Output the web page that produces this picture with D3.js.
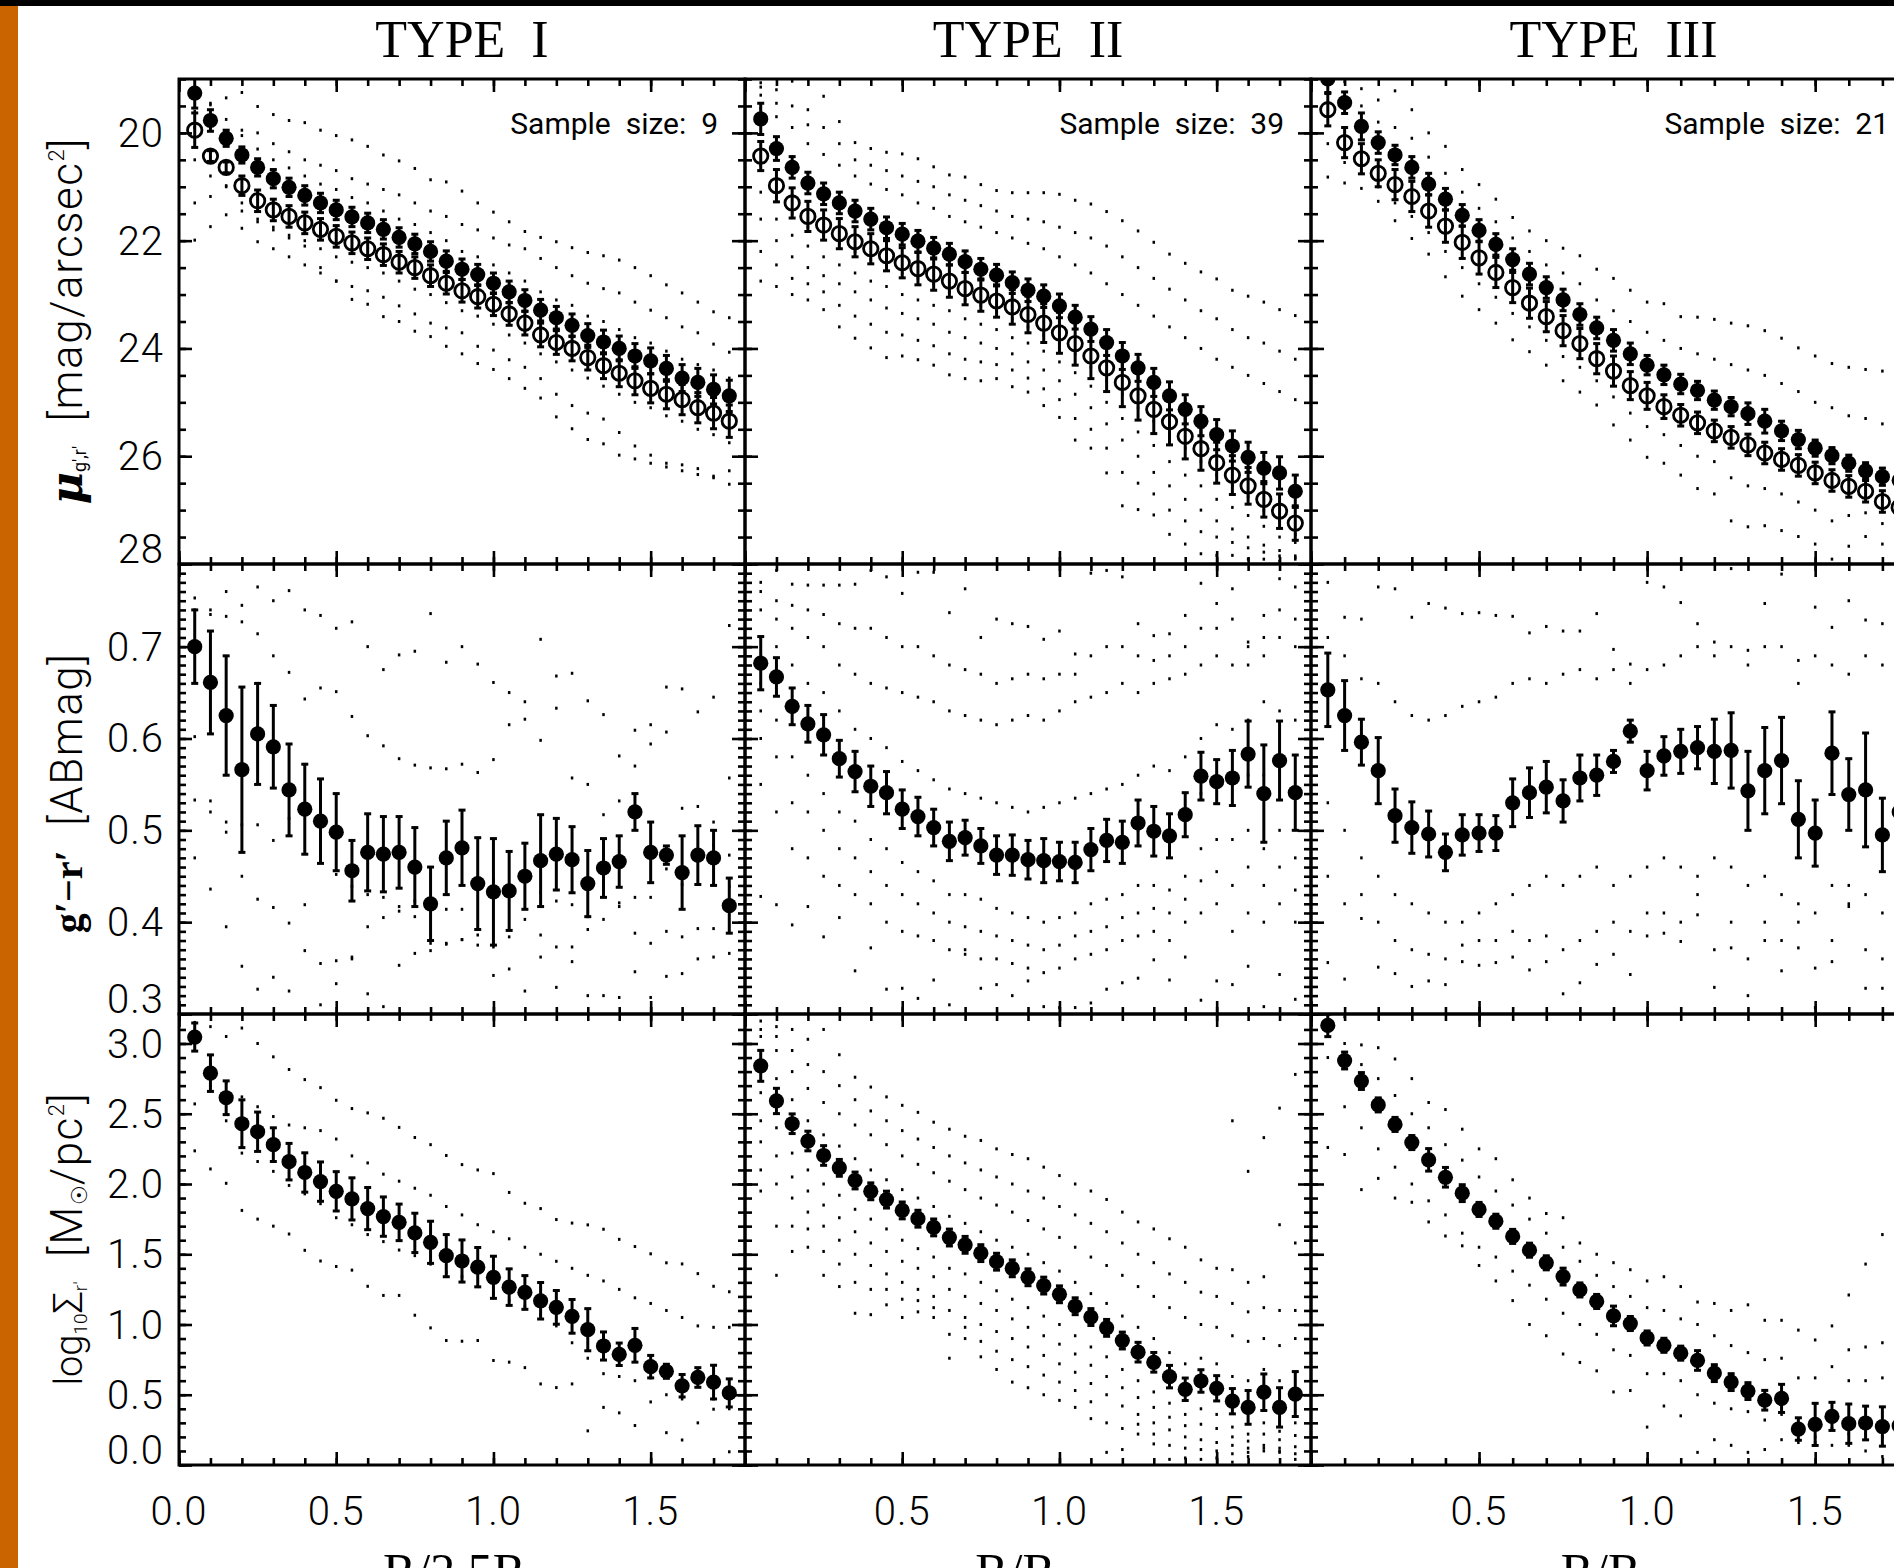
<!DOCTYPE html>
<html>
<head>
<meta charset="utf-8">
<script src="https://cdn.jsdelivr.net/npm/d3@7"></script>
<style>
  body { margin: 0; background: #fff; }
  svg { display: block; }
</style>
</head>
<body>
<script>
const radio = [0.05, 0.10, 0.15, 0.20, 0.25, 0.30, 0.35, 0.40, 0.45, 0.50, 0.55, 0.60, 0.65, 0.70, 0.75, 0.80, 0.85, 0.90, 0.95, 1.00, 1.05, 1.10, 1.15, 1.20, 1.25, 1.30, 1.35, 1.40, 1.45, 1.50, 1.55, 1.60, 1.65, 1.70, 1.75];

const tipos = ['TYPE  I', 'TYPE  II', 'TYPE  III'];
const muestras = [9, 39, 21];
const titulosX = [['R/2.5R', 'h'], ['R/R', 'br'], ['R/R', 'br']];

const ticksX = [0.0, 0.5, 1.0, 1.5];
const ticksMu = [20, 22, 24, 26, 28];
const ticksColor = [0.3, 0.4, 0.5, 0.6, 0.7];
const ticksMasa = [0.0, 0.5, 1.0, 1.5, 2.0, 2.5, 3.0];

// TYPE I
const muR1 = [19.26, 19.77, 20.10, 20.41, 20.64, 20.85, 21.01, 21.16, 21.30, 21.43, 21.56, 21.67, 21.79, 21.94, 22.06, 22.20, 22.38, 22.53, 22.63, 22.79, 22.95, 23.11, 23.29, 23.43, 23.57, 23.76, 23.88, 24.00, 24.14, 24.23, 24.37, 24.55, 24.63, 24.76, 24.88];
const muR1Err = [0.28, 0.2, 0.15, 0.15, 0.16, 0.17, 0.17, 0.18, 0.18, 0.18, 0.18, 0.18, 0.18, 0.18, 0.18, 0.18, 0.19, 0.19, 0.19, 0.19, 0.2, 0.2, 0.2, 0.21, 0.21, 0.22, 0.22, 0.23, 0.23, 0.24, 0.24, 0.25, 0.26, 0.27, 0.29];
const muG1 = [19.95, 20.43, 20.64, 20.98, 21.26, 21.43, 21.55, 21.67, 21.79, 21.92, 22.04, 22.15, 22.26, 22.40, 22.50, 22.65, 22.79, 22.93, 23.04, 23.18, 23.36, 23.53, 23.75, 23.89, 24.00, 24.17, 24.32, 24.46, 24.60, 24.74, 24.85, 24.95, 25.10, 25.20, 25.35];
const muG1Err = [0.32, 0.1, 0.1, 0.18, 0.2, 0.2, 0.2, 0.2, 0.2, 0.2, 0.2, 0.2, 0.2, 0.2, 0.2, 0.2, 0.2, 0.21, 0.21, 0.21, 0.21, 0.22, 0.22, 0.22, 0.23, 0.23, 0.24, 0.25, 0.26, 0.27, 0.27, 0.28, 0.28, 0.29, 0.3];
const color1 = [0.700, 0.661, 0.625, 0.566, 0.605, 0.591, 0.544, 0.523, 0.510, 0.498, 0.456, 0.476, 0.474, 0.476, 0.460, 0.420, 0.470, 0.481, 0.442, 0.433, 0.434, 0.450, 0.467, 0.474, 0.468, 0.442, 0.459, 0.466, 0.520, 0.476, 0.473, 0.454, 0.473, 0.470, 0.418];
const color1Err = [0.040, 0.056, 0.065, 0.090, 0.055, 0.045, 0.050, 0.049, 0.046, 0.042, 0.033, 0.042, 0.041, 0.039, 0.043, 0.040, 0.040, 0.041, 0.050, 0.058, 0.043, 0.036, 0.050, 0.039, 0.036, 0.036, 0.032, 0.028, 0.020, 0.033, 0.010, 0.040, 0.032, 0.030, 0.030];
const masa1 = [3.046, 2.789, 2.614, 2.429, 2.372, 2.280, 2.159, 2.082, 2.017, 1.948, 1.894, 1.825, 1.768, 1.727, 1.652, 1.585, 1.490, 1.452, 1.408, 1.336, 1.266, 1.228, 1.169, 1.122, 1.058, 0.963, 0.847, 0.788, 0.852, 0.700, 0.667, 0.564, 0.623, 0.590, 0.513];
const masa1Err = [0.10, 0.13, 0.12, 0.17, 0.14, 0.12, 0.13, 0.14, 0.14, 0.14, 0.15, 0.15, 0.14, 0.13, 0.14, 0.15, 0.15, 0.15, 0.14, 0.15, 0.13, 0.12, 0.13, 0.12, 0.12, 0.15, 0.10, 0.08, 0.12, 0.08, 0.05, 0.08, 0.07, 0.12, 0.10];
const perfilesMu1 = [
  [19.6, 19.48, 19.35, 19.25, 19.51, 19.66, 19.77, 19.81, 19.95, 20.05, 20.13, 20.25, 20.41, 20.52, 20.66, 20.87, 20.91, 21.08, 21.30, 21.47, 21.65, 21.83, 21.94, 22.02, 22.13, 22.22, 22.28, 22.36, 22.50, 22.65, 22.82, 22.97, 23.14, 23.32, 23.43],
  [19.9, 19.95, 20.0, 19.95, 20.0, 20.2, 20.35, 20.5, 20.6, 20.7, 20.85, 20.95, 21.05, 21.15, 21.3, 21.45, 21.55, 21.7, 21.8, 21.95, 22.08, 22.15, 22.33, 22.50, 22.65, 22.79, 22.89, 22.97, 23.14, 23.29, 23.43, 23.60, 23.71, 23.92, 24.07],
  [21.3, 21.18, 20.98, 21.45, 21.65, 21.8, 21.95, 22.1, 22.5, 22.75, 22.85, 22.93, 23.05, 23.21, 23.36, 23.53, 23.62, 23.71, 23.96, 24.03, 24.21, 24.35, 24.56, 24.85, 25.06, 25.2, 25.31, 25.56, 25.81, 25.98, 26.13, 26.16, 26.23, 26.37, 26.27],
  [21.99, 21.74, 21.52, 21.77, 22.02, 22.15, 22.3, 22.45, 22.6, 22.75, 23.09, 23.18, 23.41, 23.5, 23.68, 23.78, 23.96, 24.1, 24.28, 24.39, 24.56, 24.74, 24.92, 25.27, 25.49, 25.69, 25.77, 25.98, 26.05, 26.13, 26.2, 26.27, 26.34, 26.4, 26.52],
  [19.0, 19.45, 19.75, 20.05, 20.3, 20.5, 20.65, 20.8, 20.95, 21.05, 21.2, 21.3, 21.45, 21.6, 21.7, 21.85, 22.0, 22.2, 22.3, 22.45, 22.6, 22.75, 22.95, 23.1, 23.2, 23.4, 23.5, 23.65, 23.8, 23.9, 24.05, 24.2, 24.3, 24.4, 24.55],
  [20.5, 20.8, 21.0, 21.3, 21.6, 21.75, 21.9, 22.0, 22.15, 22.3, 22.4, 22.5, 22.6, 22.75, 22.9, 23.0, 23.15, 23.3, 23.4, 23.55, 23.75, 23.9, 24.1, 24.25, 24.4, 24.55, 24.7, 24.85, 25.0, 25.1, 25.25, 25.35, 25.5, 25.6, 25.75]
];
const perfilesColor1 = [
  [0.753, 0.740, 0.760, 0.745, 0.765, 0.750, 0.761, 0.740, 0.734, 0.720, 0.727, 0.700, 0.675, 0.691, 0.695, 0.736, 0.683, 0.700, 0.681, 0.661, 0.650, 0.640, 0.708, 0.668, 0.671, 0.641, 0.626, 0.581, 0.609, 0.615, 0.656, 0.654, 0.629, 0.645, 0.723],
  [0.740, 0.735, 0.733, 0.727, 0.714, 0.690, 0.672, 0.643, 0.655, 0.651, 0.624, 0.603, 0.592, 0.578, 0.571, 0.568, 0.567, 0.572, 0.563, 0.577, 0.615, 0.621, 0.598, 0.633, 0.557, 0.550, 0.517, 0.532, 0.570, 0.594, 0.607, 0.524, 0.526, 0.509, 0.557],
  [0.602, 0.532, 0.509, 0.506, 0.506, 0.489, 0.513, 0.528, 0.465, 0.452, 0.439, 0.430, 0.427, 0.417, 0.423, 0.419, 0.414, 0.414, 0.447, 0.446, 0.441, 0.447, 0.432, 0.423, 0.419, 0.406, 0.429, 0.417, 0.427, 0.427, 0.458, 0.441, 0.476, 0.484, 0.473],
  [0.533, 0.520, 0.498, 0.450, 0.425, 0.416, 0.399, 0.419, 0.355, 0.358, 0.362, 0.395, 0.405, 0.412, 0.406, 0.377, 0.377, 0.381, 0.386, 0.373, 0.384, 0.403, 0.386, 0.373, 0.373, 0.392, 0.403, 0.421, 0.388, 0.377, 0.390, 0.384, 0.393, 0.393, 0.439],
  [0.470, 0.436, 0.395, 0.352, 0.327, 0.340, 0.325, 0.369, 0.310, 0.333, 0.360, 0.322, 0.308, 0.353, 0.366, 0.369, 0.376, 0.381, 0.375, 0.342, 0.349, 0.325, 0.362, 0.329, 0.357, 0.320, 0.320, 0.318, 0.346, 0.318, 0.341, 0.344, 0.360, 0.362, 0.366]
];
const perfilesMasa1 = [
  [3.15, 3.12, 3.05, 3.11, 3.00, 2.905, 2.815, 2.743, 2.686, 2.596, 2.537, 2.506, 2.468, 2.403, 2.331, 2.280, 2.203, 2.138, 2.100, 2.074, 1.940, 1.863, 1.825, 1.747, 1.722, 1.709, 1.678, 1.606, 1.555, 1.503, 1.439, 1.431, 1.362, 1.272, 1.233],
  [2.95, 2.85, 2.72, 2.62, 2.55, 2.48, 2.42, 2.40, 2.38, 2.32, 2.20, 2.15, 2.07, 2.02, 1.97, 1.92, 1.84, 1.78, 1.71, 1.66, 1.61, 1.55, 1.50, 1.45, 1.40, 1.35, 1.31, 1.25, 1.19, 1.15, 1.10, 1.05, 0.99, 0.98, 0.98],
  [2.57, 2.70, 2.45, 2.22, 2.16, 2.09, 1.99, 1.93, 1.86, 1.76, 1.71, 1.64, 1.59, 1.53, 1.49, 1.43, 1.37, 1.34, 1.27, 1.22, 1.17, 1.13, 1.07, 0.99, 0.87, 0.76, 0.65, 0.63, 0.60, 0.62, 0.50, 0.47, 0.60, 0.47, 0.40],
  [2.236, 2.107, 2.005, 1.812, 1.75, 1.70, 1.644, 1.528, 1.452, 1.413, 1.387, 1.272, 1.207, 1.207, 1.066, 0.976, 0.886, 0.881, 0.886, 0.744, 0.732, 0.693, 0.577, 0.551, 0.577, 0.243, 0.410, 0.371, 0.281, 0.449, 0.230, 0.178, 0.30, 0.397, 0.094]
];

// TYPE II
const muR2 = [19.74, 20.29, 20.64, 20.93, 21.13, 21.30, 21.45, 21.60, 21.76, 21.88, 22.01, 22.14, 22.25, 22.39, 22.53, 22.64, 22.78, 22.92, 23.03, 23.21, 23.42, 23.64, 23.89, 24.14, 24.36, 24.63, 24.88, 25.13, 25.35, 25.60, 25.81, 26.02, 26.22, 26.31, 26.65];
const muR2Err = [0.29, 0.22, 0.2, 0.2, 0.2, 0.2, 0.2, 0.2, 0.2, 0.2, 0.2, 0.2, 0.2, 0.2, 0.2, 0.2, 0.2, 0.21, 0.21, 0.22, 0.22, 0.23, 0.24, 0.25, 0.25, 0.26, 0.26, 0.27, 0.27, 0.28, 0.28, 0.28, 0.29, 0.3, 0.3];
const muG2 = [20.43, 20.98, 21.30, 21.55, 21.71, 21.87, 22.02, 22.15, 22.28, 22.41, 22.52, 22.62, 22.75, 22.89, 23.01, 23.12, 23.23, 23.37, 23.53, 23.71, 23.91, 24.14, 24.36, 24.63, 24.88, 25.13, 25.36, 25.63, 25.86, 26.12, 26.35, 26.55, 26.80, 27.02, 27.24];
const muG2Err = [0.27, 0.3, 0.28, 0.28, 0.28, 0.28, 0.28, 0.28, 0.28, 0.28, 0.3, 0.3, 0.3, 0.3, 0.3, 0.3, 0.32, 0.34, 0.36, 0.38, 0.4, 0.42, 0.44, 0.45, 0.45, 0.45, 0.43, 0.42, 0.4, 0.38, 0.36, 0.34, 0.33, 0.32, 0.32];
const color2 = [0.682, 0.667, 0.635, 0.616, 0.604, 0.578, 0.564, 0.548, 0.541, 0.523, 0.515, 0.503, 0.488, 0.492, 0.483, 0.473, 0.473, 0.468, 0.467, 0.466, 0.465, 0.479, 0.489, 0.487, 0.508, 0.499, 0.494, 0.517, 0.559, 0.553, 0.557, 0.583, 0.540, 0.576, 0.541];
const color2Err = [0.029, 0.021, 0.020, 0.020, 0.022, 0.020, 0.022, 0.022, 0.023, 0.021, 0.021, 0.020, 0.021, 0.019, 0.019, 0.021, 0.022, 0.021, 0.024, 0.021, 0.022, 0.023, 0.023, 0.023, 0.025, 0.027, 0.024, 0.024, 0.026, 0.024, 0.030, 0.036, 0.053, 0.043, 0.041];
const masa2 = [2.841, 2.591, 2.429, 2.306, 2.203, 2.115, 2.025, 1.948, 1.889, 1.812, 1.753, 1.691, 1.619, 1.567, 1.508, 1.447, 1.400, 1.336, 1.277, 1.215, 1.130, 1.053, 0.976, 0.886, 0.803, 0.731, 0.629, 0.539, 0.598, 0.546, 0.454, 0.410, 0.518, 0.410, 0.505];
const masa2Err = [0.11, 0.09, 0.07, 0.07, 0.07, 0.06, 0.06, 0.06, 0.06, 0.06, 0.06, 0.06, 0.06, 0.06, 0.06, 0.06, 0.06, 0.06, 0.06, 0.06, 0.06, 0.06, 0.06, 0.06, 0.07, 0.07, 0.08, 0.08, 0.08, 0.09, 0.09, 0.12, 0.13, 0.14, 0.16];
const perfilesMu2 = [
  [19.07, 19.2, 19.04, 19.57, 19.32, 19.79, 20.18, 20.29, 20.36, 20.39, 20.48, 20.63, 20.78, 20.82, 20.96, 21.07, 21.11, 21.11, 21.11, 21.14, 21.25, 21.32, 21.46, 21.63, 21.82, 22.03, 22.25, 22.42, 22.58, 22.71, 22.92, 23.03, 23.14, 23.28, 23.39],
  [19.15, 19.45, 19.5, 19.85, 19.9, 20.2, 20.5, 20.6, 20.7, 20.8, 20.9, 21.0, 21.15, 21.25, 21.35, 21.45, 21.55, 21.6, 21.65, 21.75, 21.85, 21.95, 22.1, 22.3, 22.5, 22.7, 22.9, 23.1, 23.3, 23.45, 23.65, 23.8, 23.9, 24.05, 24.2],
  [19.3, 19.7, 19.9, 20.2, 20.4, 20.6, 20.8, 20.95, 21.05, 21.15, 21.3, 21.4, 21.55, 21.65, 21.75, 21.85, 21.95, 22.05, 22.15, 22.3, 22.45, 22.6, 22.8, 23.0, 23.2, 23.4, 23.6, 23.8, 24.0, 24.2, 24.35, 24.5, 24.65, 24.8, 24.95],
  [19.55, 20.1, 20.45, 20.75, 20.95, 21.15, 21.3, 21.45, 21.6, 21.7, 21.85, 21.95, 22.1, 22.2, 22.35, 22.5, 22.6, 22.75, 22.85, 23.05, 23.25, 23.45, 23.7, 23.95, 24.2, 24.45, 24.7, 24.95, 25.15, 25.4, 25.6, 25.8, 26.0, 26.1, 26.4],
  [20.6, 21.2, 21.5, 21.75, 21.9, 22.05, 22.2, 22.35, 22.45, 22.6, 22.7, 22.8, 22.95, 23.1, 23.2, 23.3, 23.45, 23.6, 23.75, 23.9, 24.1, 24.35, 24.6, 24.85, 25.1, 25.35, 25.6, 25.85, 26.1, 26.35, 26.55, 26.75, 27.0, 27.2, 27.45],
  [21.1, 21.6, 21.9, 22.1, 22.3, 22.45, 22.6, 22.75, 22.85, 23.0, 23.1, 23.2, 23.3, 23.45, 23.55, 23.65, 23.8, 23.9, 24.05, 24.25, 24.45, 24.7, 25.0, 25.3, 25.55, 25.8, 26.1, 26.35, 26.55, 26.8, 26.95, 27.1, 27.3, 27.5, 27.6],
  [21.6, 22.0, 22.3, 22.5, 22.65, 22.8, 22.95, 23.1, 23.25, 23.35, 23.45, 23.55, 23.7, 23.8, 23.9, 24.0, 24.1, 24.25, 24.4, 24.6, 24.85, 25.1, 25.4, 25.7, 26.0, 26.3, 26.55, 26.8, 27.0, 27.2, 27.35, 27.5, 27.65, 27.75, 27.85],
  [22.2, 22.45, 22.7, 22.8, 22.95, 23.2, 23.4, 23.55, 23.7, 23.75, 23.85, 23.95, 24.1, 24.2, 24.25, 24.3, 24.4, 24.55, 24.75, 24.95, 25.3, 25.5, 25.85, 26.3, 26.5, 26.7, 27.0, 27.2, 27.4, 27.5, 27.6, 27.7, 27.78, 27.85, 27.88],
  [22.75, 22.85, 23.0, 23.1, 23.28, 23.60, 23.81, 23.99, 24.17, 24.14, 24.21, 24.31, 24.49, 24.56, 24.60, 24.56, 24.71, 24.81, 25.06, 25.28, 25.70, 25.85, 26.31, 26.92, 26.99, 27.09, 27.45, 27.63, 27.81, 27.84, 27.84, 27.91, 27.91, 27.95, 27.91]
];
const perfilesColor2 = [
  [0.770, 0.783, 0.768, 0.767, 0.767, 0.767, 0.768, 0.783, 0.776, 0.758, 0.781, 0.781, 0.737, 0.763, 0.710, 0.730, 0.725, 0.722, 0.708, 0.717, 0.692, 0.780, 0.783, 0.776, 0.725, 0.712, 0.714, 0.734, 0.769, 0.747, 0.763, 0.705, 0.734, 0.774, 0.765],
  [0.76, 0.75, 0.745, 0.74, 0.735, 0.725, 0.72, 0.72, 0.71, 0.70, 0.70, 0.69, 0.68, 0.675, 0.67, 0.66, 0.665, 0.67, 0.665, 0.67, 0.67, 0.69, 0.70, 0.70, 0.69, 0.685, 0.69, 0.70, 0.72, 0.72, 0.73, 0.68, 0.71, 0.74, 0.73],
  [0.74, 0.73, 0.72, 0.71, 0.70, 0.68, 0.67, 0.66, 0.655, 0.65, 0.645, 0.64, 0.63, 0.625, 0.62, 0.615, 0.62, 0.625, 0.62, 0.63, 0.64, 0.645, 0.65, 0.66, 0.65, 0.66, 0.665, 0.67, 0.68, 0.69, 0.68, 0.70, 0.69, 0.71, 0.70],
  [0.71, 0.70, 0.68, 0.66, 0.65, 0.63, 0.61, 0.60, 0.59, 0.575, 0.565, 0.555, 0.545, 0.54, 0.535, 0.53, 0.525, 0.52, 0.525, 0.53, 0.535, 0.54, 0.545, 0.55, 0.56, 0.57, 0.565, 0.58, 0.60, 0.615, 0.61, 0.62, 0.64, 0.63, 0.62],
  [0.66, 0.65, 0.63, 0.61, 0.60, 0.575, 0.56, 0.545, 0.535, 0.52, 0.51, 0.50, 0.485, 0.485, 0.48, 0.47, 0.465, 0.46, 0.46, 0.465, 0.47, 0.48, 0.485, 0.49, 0.50, 0.505, 0.50, 0.515, 0.54, 0.55, 0.55, 0.56, 0.56, 0.565, 0.545],
  [0.63, 0.62, 0.58, 0.56, 0.54, 0.52, 0.51, 0.49, 0.48, 0.465, 0.455, 0.445, 0.43, 0.43, 0.425, 0.415, 0.41, 0.405, 0.40, 0.405, 0.41, 0.42, 0.425, 0.43, 0.44, 0.44, 0.435, 0.45, 0.48, 0.49, 0.49, 0.50, 0.48, 0.50, 0.47],
  [0.60, 0.58, 0.53, 0.52, 0.50, 0.48, 0.47, 0.455, 0.44, 0.43, 0.42, 0.41, 0.40, 0.395, 0.39, 0.385, 0.38, 0.375, 0.37, 0.375, 0.385, 0.39, 0.395, 0.405, 0.41, 0.415, 0.41, 0.425, 0.445, 0.455, 0.44, 0.46, 0.44, 0.46, 0.435],
  [0.55, 0.52, 0.48, 0.47, 0.45, 0.44, 0.43, 0.42, 0.40, 0.39, 0.385, 0.38, 0.37, 0.365, 0.36, 0.36, 0.355, 0.35, 0.345, 0.35, 0.36, 0.365, 0.37, 0.38, 0.385, 0.39, 0.38, 0.40, 0.41, 0.42, 0.39, 0.41, 0.40, 0.42, 0.40],
  [0.428, 0.419, 0.397, 0.417, 0.384, 0.405, 0.347, 0.372, 0.327, 0.328, 0.317, 0.337, 0.310, 0.370, 0.328, 0.332, 0.320, 0.336, 0.308, 0.307, 0.307, 0.312, 0.327, 0.334, 0.339, 0.359, 0.337, 0.362, 0.315, 0.336, 0.332, 0.352, 0.308, 0.343, 0.316]
];
const perfilesMasa2 = [
  [3.16, 3.12, 3.10, 3.03, 3.10, 2.92, 2.76, 2.69, 2.62, 2.56, 2.51, 2.44, 2.39, 2.34, 2.31, 2.25, 2.21, 2.18, 2.12, 2.06, 2.00, 1.95, 1.89, 1.80, 1.73, 1.68, 1.61, 1.55, 1.46, 1.40, 1.39, 1.30, 1.34, 1.71, 1.58],
  [3.1, 3.05, 2.95, 2.85, 2.8, 2.7, 2.6, 2.52, 2.45, 2.38, 2.32, 2.26, 2.2, 2.15, 2.1, 2.05, 2.0, 1.95, 1.9, 1.84, 1.78, 1.72, 1.66, 1.58, 1.5, 1.44, 1.36, 1.3, 1.23, 1.2, 1.15, 1.09, 1.12, 1.1, 1.1],
  [3.05, 2.95, 2.8, 2.68, 2.58, 2.5, 2.42, 2.35, 2.28, 2.2, 2.14, 2.08, 2.02, 1.96, 1.9, 1.85, 1.8, 1.74, 1.68, 1.62, 1.55, 1.48, 1.42, 1.35, 1.27, 1.2, 1.12, 1.05, 1.0, 0.98, 0.92, 0.88, 0.9, 0.85, 0.9],
  [2.95, 2.75, 2.6, 2.45, 2.35, 2.27, 2.18, 2.1, 2.03, 1.96, 1.9, 1.84, 1.77, 1.72, 1.66, 1.6, 1.55, 1.5, 1.44, 1.38, 1.3, 1.22, 1.15, 1.06, 0.98, 0.9, 0.8, 0.72, 0.76, 0.72, 0.63, 0.6, 0.68, 0.6, 0.66],
  [2.65, 2.4, 2.22, 2.1, 2.0, 1.92, 1.82, 1.75, 1.68, 1.6, 1.54, 1.48, 1.4, 1.36, 1.3, 1.24, 1.18, 1.12, 1.06, 1.0, 0.92, 0.84, 0.77, 0.68, 0.6, 0.52, 0.44, 0.36, 0.4, 0.36, 0.27, 0.22, 0.3, 0.24, 0.3],
  [2.45, 2.2, 2.05, 1.95, 1.85, 1.76, 1.66, 1.58, 1.52, 1.45, 1.4, 1.34, 1.25, 1.2, 1.15, 1.1, 1.04, 0.98, 0.92, 0.86, 0.79, 0.71, 0.63, 0.55, 0.48, 0.41, 0.34, 0.28, 0.29, 0.26, 0.2, 0.17, 0.22, 0.18, 0.21],
  [2.3, 2.0, 1.9, 1.8, 1.7, 1.6, 1.5, 1.42, 1.36, 1.3, 1.25, 1.2, 1.1, 1.05, 1.0, 0.95, 0.9, 0.84, 0.78, 0.72, 0.66, 0.58, 0.5, 0.42, 0.36, 0.3, 0.25, 0.2, 0.18, 0.16, 0.14, 0.12, 0.14, 0.12, 0.13],
  [2.1, 1.7, 1.7, 1.68, 1.52, 1.43, 1.3, 1.25, 1.25, 1.18, 1.17, 1.12, 0.93, 0.98, 0.88, 0.81, 0.75, 0.7, 0.64, 0.59, 0.53, 0.45, 0.3, 0.26, 0.29, 0.22, 0.14, 0.12, 0.11, 0.1, 0.08, 0.09, 0.12, 0.1, 0.08],
  [1.95, 1.35, 1.52, 1.55, 1.35, 1.27, 1.08, 1.07, 1.14, 1.05, 1.09, 1.05, 0.76, 0.90, 0.77, 0.68, 0.59, 0.55, 0.50, 0.46, 0.41, 0.33, 0.09, 0.11, 0.22, 0.15, 0.04, 0.05, 0.04, 0.05, 0.02, 0.06, 0.10, 0.09, 0.04],
  [null, null, null, null, null, null, null, null, null, null, null, null, null, null, null, null, null, null, null, null, null, null, null, null, null, null, null, null, null, null, 2.45, 2.09, 2.33, 2.54, 2.78]
];

// TYPE III
const muR3 = [19.0, 19.44, 19.88, 20.18, 20.41, 20.64, 20.95, 21.23, 21.53, 21.81, 22.07, 22.35, 22.62, 22.87, 23.10, 23.37, 23.62, 23.85, 24.10, 24.31, 24.49, 24.66, 24.78, 24.96, 25.08, 25.21, 25.35, 25.53, 25.69, 25.85, 25.99, 26.13, 26.27, 26.38, 26.45];
const muR3Err = [0.25, 0.2, 0.25, 0.2, 0.18, 0.2, 0.2, 0.2, 0.2, 0.2, 0.2, 0.2, 0.2, 0.2, 0.2, 0.2, 0.2, 0.2, 0.2, 0.18, 0.18, 0.18, 0.17, 0.17, 0.17, 0.2, 0.22, 0.18, 0.17, 0.15, 0.15, 0.15, 0.15, 0.16, 0.18];
const muG3 = [19.57, 20.18, 20.48, 20.75, 20.96, 21.18, 21.45, 21.73, 22.03, 22.32, 22.59, 22.87, 23.16, 23.41, 23.67, 23.91, 24.19, 24.42, 24.69, 24.88, 25.08, 25.24, 25.38, 25.53, 25.65, 25.79, 25.94, 26.06, 26.17, 26.31, 26.45, 26.56, 26.65, 26.84, 26.95];
const muG3Err = [0.3, 0.28, 0.28, 0.25, 0.28, 0.28, 0.3, 0.3, 0.3, 0.3, 0.28, 0.28, 0.28, 0.28, 0.28, 0.28, 0.28, 0.28, 0.26, 0.25, 0.22, 0.2, 0.2, 0.2, 0.2, 0.2, 0.2, 0.2, 0.2, 0.2, 0.2, 0.2, 0.2, 0.2, 0.22];
const color3 = [0.653, 0.625, 0.596, 0.565, 0.516, 0.503, 0.496, 0.476, 0.495, 0.497, 0.497, 0.530, 0.541, 0.547, 0.532, 0.557, 0.560, 0.575, 0.608, 0.565, 0.581, 0.586, 0.590, 0.586, 0.587, 0.543, 0.565, 0.576, 0.512, 0.497, 0.584, 0.539, 0.544, 0.495, 0.520];
const color3Err = [0.040, 0.038, 0.025, 0.036, 0.029, 0.028, 0.025, 0.020, 0.022, 0.020, 0.019, 0.026, 0.027, 0.028, 0.023, 0.025, 0.022, 0.012, 0.012, 0.021, 0.021, 0.024, 0.023, 0.035, 0.041, 0.043, 0.047, 0.047, 0.042, 0.036, 0.045, 0.039, 0.062, 0.040, 0.040];
const masa3 = [3.129, 2.879, 2.733, 2.563, 2.424, 2.295, 2.172, 2.048, 1.935, 1.819, 1.735, 1.627, 1.529, 1.439, 1.341, 1.246, 1.164, 1.061, 1.007, 0.904, 0.852, 0.796, 0.744, 0.654, 0.590, 0.526, 0.461, 0.474, 0.256, 0.289, 0.346, 0.294, 0.299, 0.274, 0.280];
const masa3Err = [0.08, 0.06, 0.06, 0.05, 0.05, 0.05, 0.08, 0.07, 0.06, 0.05, 0.05, 0.05, 0.05, 0.05, 0.06, 0.05, 0.05, 0.07, 0.05, 0.05, 0.05, 0.05, 0.07, 0.06, 0.06, 0.06, 0.07, 0.1, 0.08, 0.15, 0.1, 0.14, 0.12, 0.14, 0.15];
const perfilesMu3 = [
  [18.93, 19.05, 19.18, 19.39, 19.22, 19.57, 20.0, 20.25, 20.68, 20.96, 21.23, 21.57, 21.82, 22.0, 22.14, 22.28, 22.53, 22.70, 22.92, 23.14, 23.17, 23.41, 23.42, 23.46, 23.53, 23.58, 23.67, 23.81, 23.99, 24.14, 24.28, 24.35, 24.39, 24.42, 24.45],
  [19.1, 19.25, 19.5, 19.8, 19.9, 20.1, 20.45, 20.75, 21.1, 21.4, 21.65, 21.95, 22.2, 22.45, 22.6, 22.8, 23.1, 23.3, 23.5, 23.7, 23.85, 24.0, 24.1, 24.2, 24.3, 24.4, 24.5, 24.65, 24.8, 25.0, 25.1, 25.25, 25.3, 25.4, 25.45],
  [20.2, 20.55, 20.75, 21.0, 21.3, 21.55, 21.85, 22.2, 22.5, 22.8, 23.05, 23.35, 23.6, 23.85, 24.15, 24.35, 24.6, 24.9, 25.2, 25.45, 25.6, 25.8, 26.0, 26.1, 26.4, 26.55, 26.6, 26.7, 26.85, 27.0, 27.2, 27.1, 27.05, 27.25, 27.3],
  [20.82, 20.93, 21.03, 21.27, 21.63, 21.96, 22.25, 22.67, 23.03, 23.28, 23.53, 23.84, 24.06, 24.31, 24.60, 24.81, 25.05, 25.42, 25.70, 26.02, 26.13, 26.35, 26.60, 26.70, 27.20, 27.31, 27.29, 27.38, 27.49, 27.63, 27.91, 27.67, 27.49, 27.63, 27.6]
];
const perfilesColor3 = [
  [0.770, 0.732, 0.730, 0.765, 0.763, 0.732, 0.747, 0.742, 0.736, 0.737, 0.734, 0.733, 0.715, 0.722, 0.717, 0.717, 0.736, 0.697, 0.681, 0.770, 0.765, 0.748, 0.725, 0.705, 0.785, 0.696, 0.747, 0.779, 0.685, 0.743, 0.721, 0.750, 0.729, 0.725, 0.73],
  [0.71, 0.69, 0.665, 0.66, 0.64, 0.625, 0.62, 0.625, 0.635, 0.64, 0.645, 0.66, 0.665, 0.66, 0.67, 0.675, 0.665, 0.675, 0.66, 0.675, 0.68, 0.69, 0.70, 0.69, 0.70, 0.68, 0.70, 0.70, 0.66, 0.69, 0.68, 0.67, 0.69, 0.68, 0.67],
  [0.53, 0.50, 0.47, 0.45, 0.43, 0.42, 0.41, 0.40, 0.40, 0.41, 0.42, 0.43, 0.44, 0.45, 0.44, 0.45, 0.46, 0.44, 0.45, 0.46, 0.47, 0.46, 0.45, 0.47, 0.46, 0.44, 0.45, 0.43, 0.42, 0.41, 0.44, 0.42, 0.43, 0.41, 0.42],
  [0.45, 0.42, 0.43, 0.40, 0.38, 0.37, 0.365, 0.36, 0.375, 0.38, 0.38, 0.39, 0.38, 0.385, 0.37, 0.38, 0.39, 0.40, 0.39, 0.41, 0.41, 0.40, 0.43, 0.37, 0.40, 0.36, 0.40, 0.38, 0.40, 0.35, 0.38, 0.44, 0.37, 0.36, 0.37],
  [0.356, 0.338, 0.404, 0.351, 0.344, 0.330, 0.336, 0.332, 0.357, 0.353, 0.356, 0.362, 0.348, 0.357, 0.322, 0.334, 0.354, 0.365, 0.343, 0.385, 0.388, 0.379, 0.408, 0.329, 0.372, 0.320, 0.380, 0.347, 0.372, 0.307, 0.357, 0.417, 0.328, 0.328, 0.33]
];
const perfilesMasa3 = [
  [3.20, 3.19, 2.99, 2.97, 2.89, 2.75, 2.58, 2.53, 2.39, 2.25, 2.18, 2.03, 1.90, 1.79, 1.76, 1.58, 1.50, 1.44, 1.39, 1.31, 1.34, 1.27, 1.16, 1.15, 1.10, 1.14, 1.03, 1.03, 0.96, 0.89, 0.99, 0.82, 0.84, 0.87, 0.85],
  [3.15, 3.0, 2.85, 2.75, 2.63, 2.5, 2.4, 2.28, 2.17, 2.05, 1.95, 1.85, 1.75, 1.65, 1.55, 1.45, 1.35, 1.27, 1.2, 1.12, 1.1, 1.04, 1.0, 0.92, 0.85, 0.8, 0.75, 0.76, 0.62, 0.62, 0.7, 0.6, 0.6, 0.62, 0.6],
  [2.9, 2.55, 2.4, 2.25, 2.12, 2.0, 1.88, 1.78, 1.65, 1.55, 1.48, 1.38, 1.28, 1.18, 1.08, 1.0, 0.93, 0.82, 0.78, 0.65, 0.65, 0.6, 0.5, 0.44, 0.4, 0.38, 0.32, 0.36, 0.24, 0.2, 0.26, 0.22, 0.22, 0.2, 0.2],
  [2.26, 2.21, 1.96, 2.04, 1.90, 1.87, 1.73, 1.63, 1.56, 1.42, 1.31, 1.17, 1.00, 0.92, 0.79, 0.73, 0.67, 0.52, 0.53, 0.27, 0.42, 0.35, 0.09, 0.18, 0.14, 0.09, 0.11, 0.18, 0.16, 0.16, 0.14, 0.14, 0.10, 0.06, 0.05],
  [null, null, null, null, null, null, null, null, null, null, null, null, null, null, null, null, null, null, null, null, null, null, null, null, null, null, null, null, null, null, null, 1.21, 1.43, 1.64, 1.8]
];


function draw() {
    const width  = 1894;
    const height = 1568;

    const svg = d3.select('body').append('svg')
        .attr('width', width)
        .attr('height', height)
        .style('background-color', '#fff');

    svg.append('rect').attr('x', 0).attr('y', 0).attr('width', width).attr('height', 6).attr('fill', '#000');
    svg.append('rect').attr('x', 0).attr('y', 6).attr('width', 18).attr('height', height - 6).attr('fill', '#c96400');

    const columnas = [[179, 745], [745, 1311], [1311, 1916]];
    const filas    = [[79, 564], [564, 1014], [1014, 1465]];
    const dominios = [[28, 19], [0.3, 0.79], [0, 3.21]];
    const mayores  = [ticksMu, ticksColor, ticksMasa];
    const menores  = [d3.range(19, 28.01, 0.5), d3.range(0.3, 0.7901, 0.01), d3.range(0, 3.2, 0.1)];
    const formatos = [d3.format('d'), d3.format('.1f'), d3.format('.1f')];
    const menoresX = d3.range(0, 1.801, 0.1);

    const series = [
        [[muG1, muG1Err, muR1, muR1Err, perfilesMu1], [color1, color1Err, perfilesColor1], [masa1, masa1Err, perfilesMasa1]],
        [[muG2, muG2Err, muR2, muR2Err, perfilesMu2], [color2, color2Err, perfilesColor2], [masa2, masa2Err, perfilesMasa2]],
        [[muG3, muG3Err, muR3, muR3Err, perfilesMu3], [color3, color3Err, perfilesColor3], [masa3, masa3Err, perfilesMasa3]]
    ];

    const defs = svg.append('defs');
    const sans = 'Roboto, "Liberation Sans", sans-serif';

    columnas.forEach((col, p) => {
        const X = d3.scaleLinear().domain([0, 1.8]).range(col);

        filas.forEach((fila, r) => {
            const Y = d3.scaleLinear().domain(dominios[r]).range([fila[1], fila[0]]);
            const id = `clip${p}${r}`;
            defs.append('clipPath').attr('id', id).append('rect')
                .attr('x', col[0]).attr('y', fila[0])
                .attr('width', col[1] - col[0]).attr('height', fila[1] - fila[0]);

            const g = svg.append('g').attr('clip-path', `url(#${id})`);
            const s = series[p][r];
            const perfiles = r === 0 ? s[4] : s[2];

            // individual galaxies
            perfiles.forEach(perfil => {
                g.append('g').selectAll('rect')
                    .data(perfil.map((v, i) => [radio[i], v]).filter(d => d[1] !== null))
                    .join('rect')
                    .attr('x', d => X(d[0]) - 1.25)
                    .attr('y', d => Y(d[1]) - 1.5)
                    .attr('width', 2.5)
                    .attr('height', 3)
                    .attr('fill', '#000');
            });

            const conjuntos = r === 0
                ? [[s[0], s[1], false], [s[2], s[3], true]]
                : [[s[0], s[1], true]];

            conjuntos.forEach(([vals, errs, lleno]) => {
                const datos = vals.map((v, i) => ({ x: radio[i], y: v, e: errs[i] }));
                const barras = g.append('g').attr('stroke', '#000').attr('stroke-width', 3);
                barras.selectAll('line.v').data(datos).join('line')
                    .attr('x1', d => X(d.x)).attr('x2', d => X(d.x))
                    .attr('y1', d => Y(d.y - d.e)).attr('y2', d => Y(d.y + d.e));
                barras.selectAll('line.a').data(datos).join('line')
                    .attr('x1', d => X(d.x) - 3.5).attr('x2', d => X(d.x) + 3.5)
                    .attr('y1', d => Y(d.y - d.e)).attr('y2', d => Y(d.y - d.e));
                barras.selectAll('line.b').data(datos).join('line')
                    .attr('x1', d => X(d.x) - 3.5).attr('x2', d => X(d.x) + 3.5)
                    .attr('y1', d => Y(d.y + d.e)).attr('y2', d => Y(d.y + d.e));

                g.append('g').selectAll('circle').data(datos).join('circle')
                    .attr('cx', d => X(d.x))
                    .attr('cy', d => Y(d.y))
                    .attr('r', lleno ? 7.6 : 7.2)
                    .attr('fill', lleno ? '#000' : 'none')
                    .attr('stroke', '#000')
                    .attr('stroke-width', lleno ? 0 : 2.8);
            });

            // frame and inward ticks on the four sides
            svg.append('rect')
                .attr('x', col[0]).attr('y', fila[0])
                .attr('width', col[1] - col[0]).attr('height', fila[1] - fila[0])
                .attr('fill', 'none').attr('stroke', '#000').attr('stroke-width', 3);

            const lados = [
                [d3.axisBottom(X), `translate(0,${fila[1]})`, ticksX, menoresX],
                [d3.axisTop(X), `translate(0,${fila[0]})`, ticksX, menoresX],
                [d3.axisLeft(Y), `translate(${col[0]},0)`, mayores[r], menores[r]],
                [d3.axisRight(Y), `translate(${col[1]},0)`, mayores[r], menores[r]]
            ];
            lados.forEach(([eje, t, may, men]) => {
                [[men, -7], [may, -13]].forEach(([valores, largo]) => {
                    svg.append('g')
                        .attr('transform', t)
                        .call(eje.tickValues(valores).tickSize(largo).tickSizeOuter(0).tickFormat(''))
                        .call(a => a.select('.domain').remove())
                        .call(a => a.selectAll('text').remove())
                        .call(a => a.selectAll('.tick line').attr('stroke', '#000').attr('stroke-width', 2.6));
                });
            });

            if (p === 0) {
                svg.append('g').selectAll('text').data(mayores[r]).join('text')
                    .attr('x', 164)
                    .attr('y', d => Math.min(Y(d), fila[1] - 15))
                    .attr('dy', '0.35em')
                    .attr('text-anchor', 'end')
                    .attr('font-family', sans)
                    .attr('font-weight', 300)
                    .attr('font-size', 40)
                    .attr('letter-spacing', 1)
                    .text(d => formatos[r](d));
            }
            if (r === 2) {
                svg.append('g').selectAll('text').data(p === 0 ? ticksX : ticksX.slice(1)).join('text')
                    .attr('x', d => X(d))
                    .attr('y', 1525)
                    .attr('text-anchor', 'middle')
                    .attr('font-family', sans)
                    .attr('font-weight', 300)
                    .attr('font-size', 40)
                    .attr('letter-spacing', 1)
                    .text(d => d3.format('.1f')(d));
            }
        });

        const centro = (col[0] + col[1]) / 2;
        svg.append('text')
            .attr('x', centro).attr('y', 57)
            .attr('text-anchor', 'middle')
            .attr('font-family', '"Liberation Serif", serif')
            .attr('font-size', 52)
            .style('white-space', 'pre')
            .text(tipos[p]);

        svg.append('text')
            .attr('x', col[1] - 27).attr('y', 134)
            .attr('text-anchor', 'end')
            .attr('font-family', sans)
            .attr('font-size', 30)
            .style('white-space', 'pre')
            .text(`Sample  size:  ${muestras[p]}`);

        const tx = svg.append('text')
            .attr('x', centro).attr('y', 1588)
            .attr('text-anchor', 'middle')
            .attr('font-family', '"Liberation Serif", serif')
            .attr('font-size', 50);
        tx.append('tspan').text(titulosX[p][0]);
        tx.append('tspan').attr('font-size', 30).attr('dy', 10).text(titulosX[p][1]);
    });

    // y axis titles
    const t1 = svg.append('text')
        .attr('transform', `translate(82,${(filas[0][0] + filas[0][1]) / 2}) rotate(-90)`)
        .attr('text-anchor', 'middle')
        .attr('font-family', sans).attr('font-weight', 300).attr('font-size', 44)
        .style('white-space', 'pre');
    t1.append('tspan').attr('font-family', '"DejaVu Serif", serif').attr('font-weight', 'bold').attr('font-style', 'italic').text('μ');
    t1.append('tspan').attr('font-size', 18).attr('font-weight', 400).attr('dy', 4).text("g',r'");
    t1.append('tspan').attr('dy', -4).attr('letter-spacing', 1.5).text('  [mag/arcsec');
    t1.append('tspan').attr('font-size', 22).attr('dy', -18).text('2');
    t1.append('tspan').attr('dy', 18).text(']');

    const t2 = svg.append('text')
        .attr('transform', `translate(82,${(filas[1][0] + filas[1][1]) / 2 + 4}) rotate(-90)`)
        .attr('text-anchor', 'middle')
        .attr('font-family', sans).attr('font-weight', 300).attr('font-size', 44)
        .style('white-space', 'pre');
    t2.append('tspan').attr('font-family', '"Liberation Serif", serif').attr('font-weight', 'bold').attr('font-size', 40).text('g′−r′');
    t2.append('tspan').attr('letter-spacing', 1.5).text('  [ABmag]');

    const t3 = svg.append('text')
        .attr('transform', `translate(82,${(filas[2][0] + filas[2][1]) / 2}) rotate(-90)`)
        .attr('text-anchor', 'middle')
        .attr('font-family', sans).attr('font-weight', 300).attr('font-size', 44)
        .style('white-space', 'pre');
    t3.append('tspan').attr('font-size', 38).text('log');
    t3.append('tspan').attr('font-size', 19).attr('dy', 5).text('10');
    t3.append('tspan').attr('font-size', 40).attr('dy', -5).text('Σ');
    t3.append('tspan').attr('font-size', 19).attr('dy', 5).text('r′');
    t3.append('tspan').attr('dy', -5).attr('letter-spacing', 1.5).text('  [M');
    t3.append('tspan').attr('font-size', 22).attr('font-family', '"DejaVu Sans", sans-serif').attr('dy', 5).text('☉');
    t3.append('tspan').attr('dy', -5).attr('letter-spacing', 1.5).text('/pc');
    t3.append('tspan').attr('font-size', 22).attr('dy', -18).text('2');
    t3.append('tspan').attr('dy', 18).text(']');
}


draw();
</script>
</body>
</html>
